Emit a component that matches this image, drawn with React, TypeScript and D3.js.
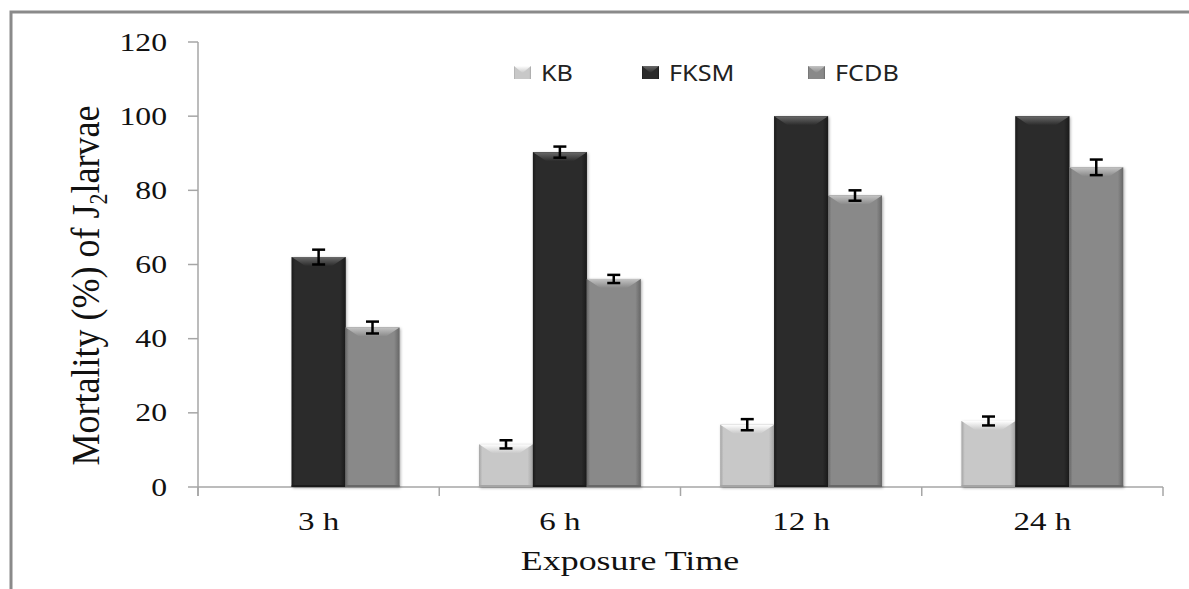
import React from 'react';
import * as d3 from 'd3';

const categories = ['3 h', '6 h', '12 h', '24 h'];
const seriesNames = ['KB', 'FKSM', 'FCDB'];
const kbValues = [0, 11.5, 16.8, 17.8];
const kbErrors = [0, 1.1, 1.5, 1.2];
const fksmValues = [62, 90.3, 100, 100];
const fksmErrors = [2.0, 1.5, 0, 0];
const fcdbValues = [43, 56.1, 78.6, 86.2];
const fcdbErrors = [1.6, 1.1, 1.4, 2.1];
const yTicks = [0, 20, 40, 60, 80, 100, 120];

const W = 1189;
const H = 589;
const margin = { left: 198, right: 1163, top: 42, bottom: 487 };

const styles = [
  { face: '#c8c8c8', light: '#ffffff', edge: '#a5a5a5', id: 'kb' },
  { face: '#2b2b2b', light: '#6a6a6a', edge: '#1a1a1a', id: 'fksm' },
  { face: '#898989', light: '#c4c4c4', edge: '#676767', id: 'fcdb' },
];

const serif = '"Liberation Serif", "Times New Roman", serif';
const sans = '"Noto Sans", "Liberation Sans", Arial, sans-serif';

export default function App() {
  const values = [kbValues, fksmValues, fcdbValues];
  const errors = [kbErrors, fksmErrors, fcdbErrors];

  const x = d3
    .scaleBand<string>()
    .domain(categories)
    .range([margin.left, margin.right])
    .paddingInner(0.33)
    .paddingOuter(0.165);
  const xs = d3.scaleBand<string>().domain(seriesNames).range([0, x.bandwidth()]).padding(0);
  const y = d3.scaleLinear().domain([0, 120]).range([margin.bottom, margin.top]);

  const boundaries = d3.range(categories.length + 1).map((i) => margin.left + i * x.step());

  const legendPos = [514, 642, 808];

  return (
    <svg
      width={W}
      height={H}
      style={{ position: 'absolute', left: 0, top: 0, background: '#fff' }}
    >
      <defs>
        <filter id="shadow" x="-20%" y="-20%" width="140%" height="140%">
          <feDropShadow dx="1" dy="1" stdDeviation="1.6" floodColor="#000" floodOpacity="0.35" />
        </filter>
        {styles.map((s) => (
          <React.Fragment key={s.id}>
            <linearGradient id={`side-${s.id}`} x1="0" x2="1" y1="0" y2="0">
              <stop offset="0" stopColor={s.edge} />
              <stop offset="0.06" stopColor={s.face} />
              <stop offset="0.9" stopColor={s.face} />
              <stop offset="1" stopColor={s.edge} />
            </linearGradient>
            <linearGradient id={`top-${s.id}`} x1="0" x2="0" y1="0" y2="1">
              <stop offset="0" stopColor={s.light} />
              <stop offset="1" stopColor={s.face} />
            </linearGradient>
          </React.Fragment>
        ))}
      </defs>
      <rect x={0} y={0} width={W} height={H} fill="#fff" />
      {/* outer frame */}
      <rect x={11} y={12} width={W + 20} height={H + 20} fill="none" stroke="#8a8a8a" strokeWidth={3} />

      {/* y axis */}
      <line x1={margin.left} x2={margin.left} y1={y(120)} y2={y(0) + 9} stroke="#a6a6a6" strokeWidth={1.5} />
      {yTicks.map((t) => (
        <g key={t}>
          <line x1={margin.left - 10} x2={margin.left} y1={y(t)} y2={y(t)} stroke="#a6a6a6" strokeWidth={1.5} />
          <text
            transform={`translate(${167},${y(t) + 8.5}) scale(1.22,1)`}
            textAnchor="end"
            fontFamily={serif}
            fontSize={26}
            fill="#111"
          >
            {t}
          </text>
        </g>
      ))}

      {/* x axis */}
      <line x1={margin.left} x2={margin.right} y1={y(0)} y2={y(0)} stroke="#a6a6a6" strokeWidth={1.5} />
      {boundaries.map((b, i) => (
        <line key={i} x1={b} x2={b} y1={y(0)} y2={y(0) + 9} stroke="#a6a6a6" strokeWidth={1.5} />
      ))}
      {categories.map((c) => (
        <text
          key={c}
          transform={`translate(${x(c)! + x.bandwidth() / 2},${530}) scale(1.27,1)`}
          textAnchor="middle"
          fontFamily={serif}
          fontSize={26}
          fill="#111"
        >
          {c}
        </text>
      ))}

      {/* bars */}
      {categories.map((c, ci) =>
        seriesNames.map((s, si) => {
          const v = values[si][ci];
          if (!v) return null;
          const bx = x(c)! + xs(s)!;
          const bw = xs.bandwidth();
          const by = y(v);
          const bh = y(0) - by;
          const st = styles[si];
          const bev = Math.min(9, bh / 2);
          return (
            <g key={`${c}-${s}`}>
              <rect x={bx} y={by} width={bw} height={bh} fill={st.face} filter="url(#shadow)" />
              <rect x={bx} y={by} width={bw} height={bh} fill={`url(#side-${st.id})`} />
              <polygon
                points={`${bx},${by} ${bx + bw},${by} ${bx + bw - bev * 1.5},${by + bev} ${bx + bev * 1.5},${by + bev}`}
                fill={`url(#top-${st.id})`}
              />
              <line x1={bx} x2={bx + bw} y1={y(0) - 1} y2={y(0) - 1} stroke={st.edge} strokeWidth={2} />
            </g>
          );
        })
      )}

      {/* error bars */}
      {categories.map((c, ci) =>
        seriesNames.map((s, si) => {
          const v = values[si][ci];
          const e = errors[si][ci];
          if (!v || !e) return null;
          const cx = x(c)! + xs(s)! + xs.bandwidth() / 2;
          const y1 = y(v + e);
          const y2 = y(v - e);
          return (
            <g key={`e-${c}-${s}`} stroke="#000" strokeWidth={2.5}>
              <line x1={cx} x2={cx} y1={y1} y2={y2} />
              <line x1={cx - 6.5} x2={cx + 6.5} y1={y1} y2={y1} />
              <line x1={cx - 6.5} x2={cx + 6.5} y1={y2} y2={y2} />
            </g>
          );
        })
      )}

      {/* legend */}
      {seriesNames.map((s, i) => {
        const st = styles[i];
        const lx = legendPos[i];
        return (
          <g key={`lg-${s}`}>
            <rect x={lx} y={66} width={17} height={13} fill={st.face} />
            <rect x={lx} y={66} width={17} height={13} fill={`url(#side-${st.id})`} />
            <polygon
              points={`${lx},${66} ${lx + 17},${66} ${lx + 8.5},${73}`}
              fill={`url(#top-${st.id})`}
            />
            <text
              transform={`translate(${lx + 27},${80.5}) scale(1.2,1)`}
              fontFamily={sans}
              fontSize={21}
              fill="#222"
            >
              {s}
            </text>
          </g>
        );
      })}

      {/* axis titles */}
      <text
        transform={`translate(${630},${570}) scale(1.33,1)`}
        textAnchor="middle"
        fontFamily={serif}
        fontSize={27}
        fill="#111"
      >
        Exposure Time
      </text>
      <text
        transform={`translate(${99},${285.5}) scale(1.14,1) rotate(-90)`}
        textAnchor="middle"
        fontFamily={serif}
        fontSize={36}
        fill="#111"
      >
        Mortality (%) of J
        <tspan fontSize={22} dy={7}>2</tspan>
        <tspan dy={-7}>larvae</tspan>
      </text>
    </svg>
  );
}
